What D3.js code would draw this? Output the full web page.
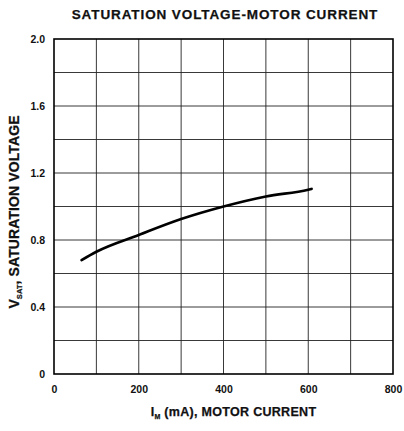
<html>
<head>
<style>
  body { margin: 0; background: #fff; font-family: "Liberation Sans", Arial, sans-serif; }
  .grid line { stroke: #222; stroke-width: 0.9; }
  .axis text { font-weight: bold; font-size: 10.5px; fill: #111; }
  .lbl { font-weight: bold; fill: #111; stroke: #111; stroke-width: 0.25px; }
</style>
<script src="https://cdn.jsdelivr.net/npm/d3@7"></script>
</head>
<body>
<div id="chart"></div>
<script>
// curve
let currentMA = [65, 100, 200, 300, 400, 500, 600, 608];
let vSat = [0.68, 0.73, 0.83, 0.925, 1.0, 1.06, 1.10, 1.105];
let xTicks = [0, 200, 400, 600, 800];
let yTicks = [0, 0.4, 0.8, 1.2, 1.6, 2.0];
let xGrid = [100, 200, 300, 400, 500, 600, 700];
let yGrid = [0.2, 0.4, 0.6, 0.8, 1.0, 1.2, 1.4, 1.6, 1.8];

let width = 404, height = 431;
let margin = { top: 39, right: 11, bottom: 57, left: 54 };
let bodyWidth = width - margin.left - margin.right;
let bodyHeight = height - margin.top - margin.bottom;

let svg = d3.select("#chart").append("svg")
  .attr("width", width).attr("height", height);

let g = svg.append("g")
  .attr("transform", "translate(" + [margin.left, margin.top] + ")");

let x = d3.scaleLinear().domain([0, 800]).range([0, bodyWidth]);
let y = d3.scaleLinear().domain([0, 2.0]).range([bodyHeight, 0]);

// grid
let grid = g.append("g").attr("class", "grid");
grid.selectAll(".vx").data(xGrid).enter().append("line")
  .attr("x1", d => x(d)).attr("x2", d => x(d))
  .attr("y1", 0).attr("y2", bodyHeight);
grid.selectAll(".hy").data(yGrid).enter().append("line")
  .attr("x1", 0).attr("x2", bodyWidth)
  .attr("y1", d => y(d)).attr("y2", d => y(d));

// frame
g.append("rect")
  .attr("width", bodyWidth).attr("height", bodyHeight)
  .attr("fill", "none").attr("stroke", "#000").attr("stroke-width", 1.6);

// axes (labels only)
let axisX = d3.axisBottom(x).tickValues(xTicks).tickSize(0).tickPadding(12).tickFormat(d3.format("d"));
g.append("g").attr("class", "axis")
  .attr("transform", "translate(0," + bodyHeight + ")")
  .call(axisX)
  .call(a => a.select(".domain").remove());

let axisY = d3.axisLeft(y).tickValues(yTicks).tickSize(0).tickPadding(9)
  .tickFormat(d => d === 0 ? "0" : d3.format(".1f")(d));
g.append("g").attr("class", "axis")
  .call(axisY)
  .call(a => a.select(".domain").remove());

// curve
let line = d3.line()
  .x((d, i) => x(currentMA[i]))
  .y((d, i) => y(vSat[i]))
  .curve(d3.curveMonotoneX);
g.append("path")
  .datum(currentMA)
  .attr("d", line)
  .attr("fill", "none")
  .attr("stroke", "#000")
  .attr("stroke-width", 2.6)
  .attr("stroke-linecap", "round");

// title
svg.append("text").attr("class", "lbl")
  .attr("x", 225).attr("y", 19)
  .attr("text-anchor", "middle")
  .style("font-size", "13.5px").style("letter-spacing", "0.9px")
  .text("SATURATION VOLTAGE-MOTOR CURRENT");

// x label
let xl = svg.append("text").attr("class", "lbl")
  .attr("x", 233.5).attr("y", 416)
  .attr("text-anchor", "middle")
  .style("font-size", "12.5px").style("letter-spacing", "0.3px");
xl.append("tspan").text("I");
xl.append("tspan").attr("dy", 3).style("font-size", "7px").text("M");
xl.append("tspan").attr("dy", -3).text(" (mA), MOTOR CURRENT");

// y label
let yl = svg.append("text").attr("class", "lbl")
  .attr("transform", "translate(19,212) rotate(-90)")
  .attr("text-anchor", "middle")
  .style("font-size", "14px").style("letter-spacing", "0.1px");
yl.append("tspan").text("V");
yl.append("tspan").attr("dy", 3).style("font-size", "7.5px").text("SAT");
yl.append("tspan").attr("dy", -3).text(", SATURATION VOLTAGE");
</script>
</body>
</html>
